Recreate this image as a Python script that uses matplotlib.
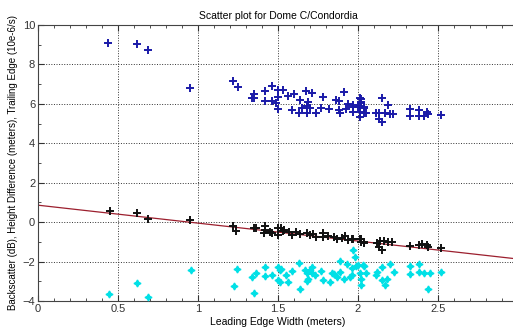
import numpy as np
import matplotlib.pyplot as plt
from matplotlib.ticker import MultipleLocator

plt.rcParams['font.family'] = ['Liberation Sans', 'DejaVu Sans']

# trailing edge (blue)
te_x = [0.44, 0.62, 0.69, 0.95, 1.22, 1.25, 1.35, 1.35, 1.335, 1.42, 1.42, 1.46, 1.46, 1.50,
        1.53, 1.50, 1.49, 1.50, 1.56, 1.60, 1.64, 1.59, 1.63, 1.675, 1.71, 1.69, 1.68, 1.70,
        1.68, 1.65, 1.74, 1.78, 1.77, 1.82, 1.86, 1.88, 1.91, 1.88, 1.89, 1.94, 1.925, 1.97,
        1.97, 2.01, 2.02, 2.02, 2.01, 2.04, 2.05, 2.01, 2.02, 1.97, 2.0, 2.01, 2.04, 2.04,
        2.11, 2.13, 2.15, 2.19, 2.17, 2.13, 2.15, 2.2, 2.22, 2.325, 2.325, 2.38, 2.38, 2.43,
        2.435, 2.41, 2.52]
te_y = [9.1, 9.05, 8.75, 6.8, 7.17, 6.84, 6.5, 6.28, 6.28, 6.67, 6.16, 6.9, 6.16, 6.7,
        6.7, 6.33, 6.02, 5.72, 6.4, 6.5, 6.19, 5.69, 5.55, 6.67, 6.53, 6.11, 5.89, 5.77,
        5.52, 5.77, 5.52, 6.36, 5.77, 5.72, 6.19, 6.16, 6.61, 5.69, 5.52, 5.97, 5.72, 5.85,
        5.6, 5.89, 6.23, 6.03, 5.35, 5.77, 5.55, 6.28, 6.11, 5.94, 5.85, 5.6, 5.82, 5.55,
        5.55, 5.55, 6.28, 5.94, 5.55, 5.21, 5.09, 5.47, 5.47, 5.74, 5.40, 5.69, 5.40, 5.60,
        5.47, 5.40, 5.43]

# height difference (black)
hd_x = [0.45, 0.62, 0.69, 0.95, 1.22, 1.24, 1.35, 1.36, 1.42, 1.42, 1.46, 1.50, 1.52, 1.50,
        1.54, 1.57, 1.59, 1.64, 1.68, 1.70, 1.74, 1.78, 1.78, 1.85, 1.87, 1.92, 1.94, 1.97,
        2.01, 2.02, 2.04, 1.96, 2.02, 2.04, 2.12, 2.14, 2.15, 2.13, 2.16, 2.19, 2.21, 2.325,
        2.38, 2.40, 2.43, 2.435, 2.52, 1.41, 1.45, 1.53, 1.61, 1.72, 1.81, 1.90]
hd_y = [0.57, 0.44, 0.14, 0.1, -0.2, -0.44, -0.32, -0.32, -0.2, -0.41, -0.54, -0.32, -0.32, -0.66,
        -0.41, -0.49, -0.66, -0.61, -0.54, -0.66, -0.74, -0.54, -0.74, -0.74, -0.83, -0.71, -0.91, -0.88,
        -0.83, -1.0, -1.05, -0.83, -0.83, -1.0, -1.05, -0.95, -1.39, -1.25, -0.95, -1.0, -1.0, -1.22,
        -1.17, -1.13, -1.17, -1.25, -1.3, -0.56, -0.49, -0.45, -0.52, -0.62, -0.7, -0.78]

# backscatter (cyan)
bs_x = [0.445, 0.62, 0.69, 0.955, 1.225, 1.245, 1.34, 1.35, 1.36, 1.42, 1.42, 1.46, 1.50, 1.50,
        1.51, 1.52, 1.51, 1.55, 1.56, 1.59, 1.63, 1.64, 1.67, 1.68, 1.69, 1.70, 1.71, 1.71,
        1.73, 1.68, 1.77, 1.78, 1.825, 1.84, 1.85, 1.87, 1.89, 1.89, 1.91, 1.93, 1.95, 1.96,
        1.97, 1.98, 1.99, 2.01, 2.02, 2.04, 2.05, 2.0, 2.03, 1.96, 2.02, 2.11, 2.12, 2.15,
        2.15, 2.17, 2.18, 2.2, 2.225, 2.325, 2.325, 2.38, 2.38, 2.41, 2.45, 2.44, 2.52]
bs_y = [-3.62, -3.11, -3.79, -2.44, -3.25, -2.4, -2.78, -3.59, -2.57, -2.3, -2.71, -2.69, -2.27, -2.95,
        -2.44, -2.4, -3.03, -2.69, -3.03, -2.47, -2.07, -3.37, -2.44, -2.6, -2.86, -2.44, -2.27, -2.6,
        -2.69, -2.98, -2.47, -2.91, -3.03, -2.6, -2.62, -2.78, -1.96, -2.54, -2.86, -2.13, -2.78, -2.35,
        -1.39, -1.76, -2.23, -2.6, -3.2, -2.23, -2.57, -2.18, -2.18, -2.69, -2.86, -2.69, -2.52, -2.27,
        -2.91, -3.2, -2.88, -2.13, -2.55, -2.23, -2.65, -2.13, -2.52, -2.6, -2.6, -3.37, -2.52]

fit_x = [0, 3]
fit_y = [0.86, -1.87]

x_ticks = [0, 0.5, 1, 1.5, 2, 2.5]
x_labels = ['0', '0.5', '1', '1.5', '2', '2.5']

fig = plt.figure(figsize=(5.13, 3.31), dpi=100)
ax = fig.add_axes([38 / 513, 30 / 331, 480 / 513, 276 / 331])

ax.plot(fit_x, fit_y, color='#9c1f2e', lw=0.9, zorder=2)
ax.plot(bs_x, bs_y, ls='none', marker=(4, 1, 0), ms=5, color='#00e0e6', zorder=3)
ax.plot(hd_x, hd_y, ls='none', marker='+', ms=5.5, mew=1.4, color='#111111', zorder=3)
ax.plot(te_x, te_y, ls='none', marker='+', ms=5.5, mew=1.4, color='#1a1aa8', zorder=3)

ax.set_xlim(0, 3)
ax.set_ylim(-4, 10)
ax.xaxis.set_minor_locator(MultipleLocator(0.1))
ax.yaxis.set_major_locator(MultipleLocator(2))
ax.yaxis.set_minor_locator(MultipleLocator(1))
ax.set_xticks(x_ticks)
ax.set_xticklabels(x_labels)
ax.tick_params(which='both', direction='in', top=True, right=True, labelsize=8, colors='#333333', pad=2)
ax.tick_params(which='major', length=4)
ax.tick_params(which='minor', length=2.5)
ax.grid(True, which='major', ls=':', color='#333333', lw=0.7)
for s in ax.spines.values():
    s.set_color('#444444')
    s.set_linewidth(0.8)

ax.set_title('Scatter plot for Dome C/Condordia', fontsize=7.5, pad=4)
ax.set_xlabel('Leading Edge Width (meters)', fontsize=7.5, labelpad=2)
ax.set_ylabel('Backscatter (dB), Height Difference (meters), Trailing Edge (10e-6/s)', fontsize=7, labelpad=3)

fig.savefig('out.png', dpi=100)
